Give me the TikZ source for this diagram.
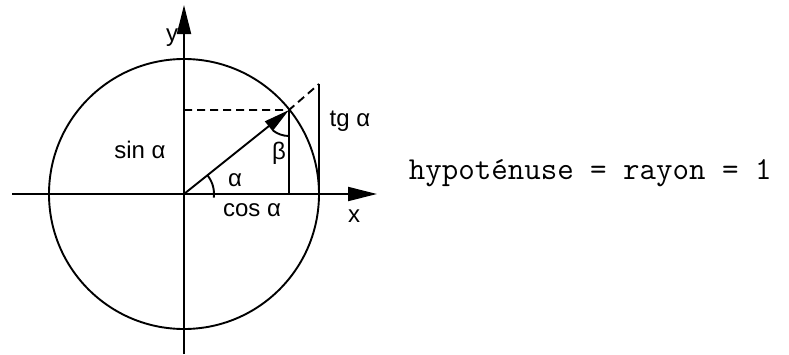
\documentclass[tikz,border=0pt]{standalone}
\usepackage{fontspec}
\setmainfont{Liberation Sans}
\usetikzlibrary{arrows.meta}
\begin{document}
\begin{tikzpicture}[x=1pt,y=-1pt, line width=1.9pt,
  lbl/.style={font=\fontsize{24}{28}\selectfont, inner sep=0pt},
  axisarrow/.style={-{Triangle[length=29pt,width=14pt]}},
  hyparrow/.style={-{Triangle[length=26pt,width=12pt]}},
  dashline/.style={dash pattern=on 8pt off 5pt}]
\useasboundingbox (0,0) rectangle (789,354);
\coordinate (O) at (184,194);
\coordinate (xl) at (12,194);
\coordinate (xr) at (377,194);
\coordinate (yb) at (184,354);
\coordinate (yt) at (184,5);
\coordinate (P) at (289,110);
\coordinate (Py) at (184,110);
\coordinate (Px) at (289,194);
\coordinate (T) at (319,84);
\coordinate (Tx) at (319,194);
% circle
\draw (O) circle (135pt);
% axes
\draw[axisarrow] (xl) -- (xr);
\draw[axisarrow] (yb) -- (yt);
% dashed lines
\draw[dashline] (Py) -- (P) -- (T);
% verticals
\draw (P) -- (Px);
\draw (T) -- (Tx);
% hypotenuse
\draw[hyparrow] (O) -- (P);
% angle arcs
\draw ([shift={(38:30pt)}]O) arc[start angle=38, end angle=-7, radius=30pt];
\draw ([shift={(232:26pt)}]P) arc[start angle=232, end angle=270, radius=26pt];
% labels
\node[lbl] (ly) at (172,38) {y};
\node[lbl] (lx) at (354,216) {x};
\node[lbl] (la) at (235,180) {α};
\node[lbl] (lcos) at (252,210) {cos α};
\node[lbl] (lsin) at (140,150) {sin α};
\node[lbl] (lb) at (279,153) {β};
\node[lbl] (ltg) at (350,121) {tg α};
\node[font=\ttfamily\fontsize{32}{36}\selectfont, inner sep=0pt, anchor=west] (hyp) at (408,173) {hypoténuse = rayon = 1};
\end{tikzpicture}
\end{document}
